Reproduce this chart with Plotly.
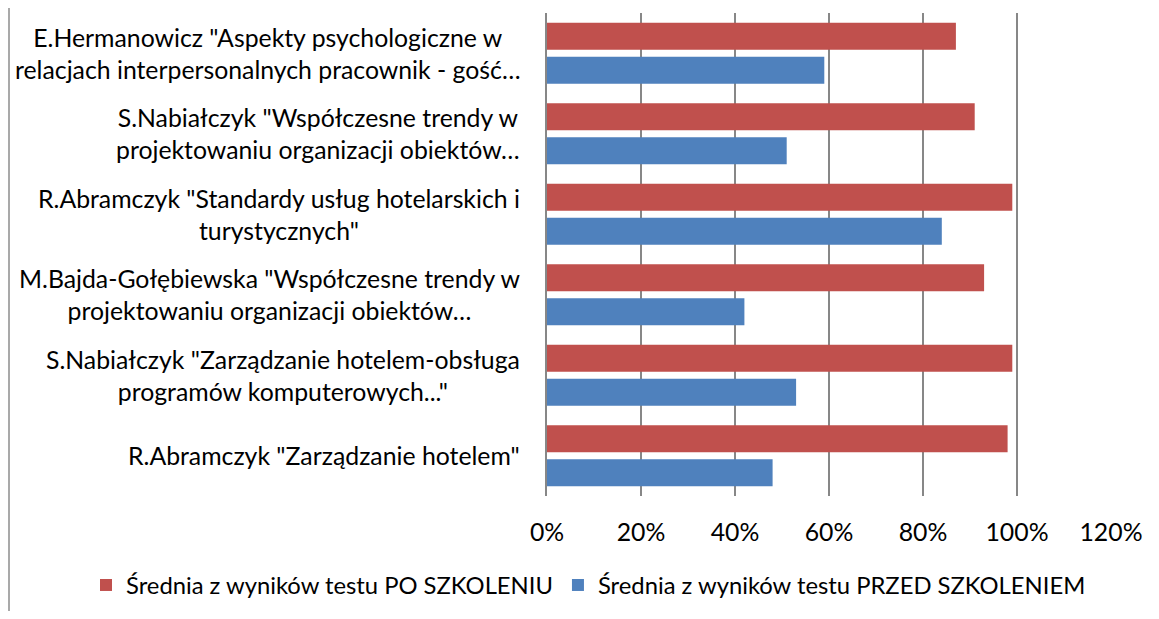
import plotly.graph_objects as go

categories = [
    'E.Hermanowicz "Aspekty psychologiczne w<br>relacjach interpersonalnych pracownik - gość…',
    'S.Nabiałczyk "Współczesne trendy w<br>projektowaniu organizacji obiektów…',
    'R.Abramczyk "Standardy usług hotelarskich i<br>turystycznych"',
    'M.Bajda-Gołębiewska "Współczesne trendy w<br>projektowaniu organizacji obiektów…',
    'S.Nabiałczyk "Zarządzanie hotelem-obsługa<br>programów komputerowych..."',
    'R.Abramczyk "Zarządzanie hotelem"',
]
po_szkoleniu = [87, 91, 99, 93, 99, 98]
przed_szkoleniem = [59, 51, 84, 42, 53, 48]
series_names = [
    "Średnia z wyników testu PO SZKOLENIU",
    "Średnia z wyników testu PRZED SZKOLENIEM",
]
x_ticks = [0, 20, 40, 60, 80, 100, 120]
x_tick_labels = ["0%", "20%", "40%", "60%", "80%", "100%", "120%"]

FONT = "Lato"
FS = 24.8
LEG_FS = 23.8
RED = "#C0504D"
BLUE = "#4F81BD"
GRID = "#878787"

# page body has an 8px default margin; the figure is sized to fit inside
OFF = 8
W, H = 1159 - 2 * OFF, 619 - 2 * OFF
ML = 547 - OFF
MT = 13 - OFF
MR = W - (1111 - OFF)
MB = H - (496 - OFF)
PW = W - ML - MR
PH = H - MT - MB

fig = go.Figure()
fig.add_trace(go.Bar(
    y=categories, x=po_szkoleniu, orientation="h", name=series_names[0],
    marker=dict(color=RED, line=dict(width=0)), width=0.335, offset=-0.379,
))
fig.add_trace(go.Bar(
    y=categories, x=przed_szkoleniem, orientation="h", name=series_names[1],
    marker=dict(color=BLUE, line=dict(width=0)), width=0.335, offset=0.044,
))

for c in categories:
    fig.add_annotation(
        x=0, xref="paper", y=c, yref="y", text=c, showarrow=False,
        xanchor="right", yanchor="middle", align="center", xshift=-25,
        font=dict(family=FONT, size=FS, color="#000000"),
    )

# chart-area left border
fig.add_shape(
    type="line", xref="paper", yref="paper",
    x0=(1 - ML) / PW, x1=(1 - ML) / PW,
    y0=-MB / PH, y1=1 + MT / PH,
    line=dict(color="#8c8c8c", width=1.5),
)

fig.update_layout(
    width=W, height=H,
    margin=dict(l=ML, r=MR, t=MT, b=MB, pad=0, autoexpand=False),
    paper_bgcolor="white", plot_bgcolor="white",
    font=dict(family=FONT, size=FS, color="#000000"),
    barmode="group",
    showlegend=True,
    legend=dict(
        orientation="h", xref="paper", yref="paper",
        x=(78 - ML) / PW, xanchor="left",
        y=-((585 - OFF) - (496 - OFF)) / PH, yanchor="middle",
        font=dict(family=FONT, size=LEG_FS, color="#000000"),
        traceorder="normal", itemwidth=30,
    ),
    xaxis=dict(
        range=[0, 120], tickmode="array", tickvals=x_ticks, ticktext=x_tick_labels,
        showgrid=True, gridcolor=GRID, gridwidth=1.5,
        zeroline=False, showline=False, ticks="",
        ticklabelstandoff=19,
        tickfont=dict(family=FONT, size=FS, color="#000000"),
        fixedrange=True,
    ),
    yaxis=dict(
        type="category", categoryorder="array", categoryarray=categories,
        range=[5.5, -0.5], showticklabels=False, ticks="",
        showgrid=False, zeroline=False,
        showline=True, linecolor=GRID, linewidth=1.5,
        fixedrange=True,
    ),
)

fig.write_html("out.html")
